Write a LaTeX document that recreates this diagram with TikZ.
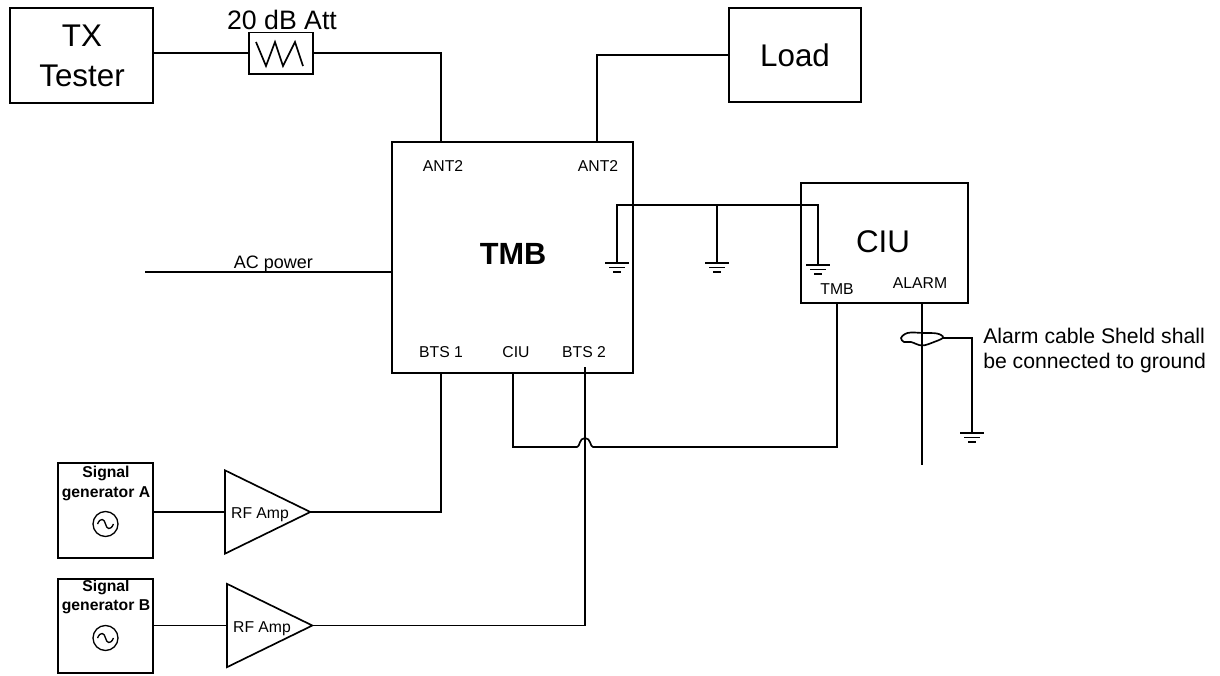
\documentclass[tikz,border=0pt]{standalone}
\usepackage{fontspec}
\setmainfont{Liberation Sans}
\usetikzlibrary{shapes.geometric}
\tikzset{
    wire/.style={line width=1.25pt},
    box/.style={draw,line width=1.25pt,inner sep=0pt,outer sep=0pt},
    amp/.style={draw,line width=1.25pt,isosceles triangle,isosceles triangle stretches,minimum width=62.5pt,minimum height=64pt,inner sep=0pt,outer sep=0pt,anchor=lower side},
    lbl/.style={inner sep=0pt,align=center},
    small/.style={lbl,font=\fontsize{11.8}{14.8}\selectfont},
    smallb/.style={small,font=\fontsize{11.8}{14.8}\selectfont\bfseries},
    big/.style={lbl,font=\fontsize{23.5}{30}\selectfont},
    gnd/.pic={
        \draw[wire] (-12,0) -- (12,0) (-8,4.5) -- (8,4.5) (-4,9) -- (4,9);
    },
    sine/.pic={
        \draw[line width=1pt] (0,0) circle (12.5);
        \draw[line width=1pt] (-8,0) .. controls (-5,-7) and (-1,-5) .. (0,0) .. controls (1,5) and (5,7) .. (8,0);
    }
}
\begin{document}
\begin{tikzpicture}[x=0.75pt,y=-0.75pt]
    \useasboundingbox (0,0) rectangle (1220,675);

    \node[box,minimum width=107.5pt,minimum height=71.5pt] (tx) at (81.5,55.5) {};
    \node[big] (txlbl) at (82,56) {TX\\Tester};
    \node[box,minimum width=48pt,minimum height=31pt] (att) at (281,53) {};
    \node[lbl,font=\fontsize{20}{22}\selectfont] (attlbl) at (282,20) {20 dB Att};
    \draw[wire] (256,42) -- (266,66) -- (275,42) -- (283,66) -- (295,42) -- (303,66);
    \node[box,minimum width=99pt,minimum height=70.5pt] (load) at (795,55) {};
    \node[big] (loadlbl) at (795,55) {Load};

    \node[box,minimum width=180.75pt,minimum height=173.25pt] (tmb) at (512.5,257.5) {};
    \node[lbl,font=\fontsize{23}{26}\selectfont\bfseries] (tmblbl) at (513,254) {TMB};
    \node[small] (ant1) at (443,166) {ANT2};
    \node[small] (ant2) at (598,166) {ANT2};
    \node[small] (bts1) at (441,352) {BTS 1};
    \node[small] (ciuport) at (516,352) {CIU};
    \node[small] (bts2) at (584,352) {BTS 2};

    \node[box,minimum width=125.5pt,minimum height=90pt] (ciu) at (884.5,243) {};
    \node[big] (ciulbl) at (883,242) {CIU};
    \node[small] (tmbport) at (837,289) {TMB};
    \node[small] (alarm) at (920,283) {ALARM};

    \coordinate (antin) at (441,142);
    \coordinate (antout) at (597,142);
    \draw[wire] (tx.east |- att.west) -- (att.west);
    \draw[wire] (att.east) -| (antin);
    \draw[wire] (load.west) -| (antout);

    \coordinate (acend) at (145,272);
    \coordinate (acin) at (392,272);
    \draw[wire] (acend) -- (acin);
    \node[lbl,font=\fontsize{13.5}{16}\selectfont] (aclbl) at (273.5,264) {AC power};

    \coordinate (gnda) at (617,263);
    \coordinate (gndb) at (717,263);
    \coordinate (gndc) at (818,265);
    \coordinate (busb) at (717,205);
    \draw[wire] (gnda) |- (gndc |- busb) -- (gndc);
    \draw[wire] (busb) -- (gndb);
    \pic at (gnda) {gnd};
    \pic at (gndb) {gnd};
    \pic at (gndc) {gnd};

    \node[box,minimum width=71.25pt,minimum height=71.25pt] (siga) at (105.5,510.5) {};
    \node[smallb] (sigalbl) at (106,483.5) {Signal\\generator A};
    \pic at (105.5,524) {sine};
    \node[box,minimum width=71.25pt,minimum height=70.5pt] (sigb) at (105.5,626) {};
    \node[smallb] (sigblbl) at (106,597) {Signal\\generator B};
    \pic at (105.5,638) {sine};

    \node[amp] (ampa) at (225,512) {};
    \node[small] (ampalbl) at (260,515) {RF Amp};
    \node[amp] (ampb) at (227,625.5) {};
    \node[small] (ampblbl) at (262,629) {RF Amp};
    \draw[wire] (siga.east |- ampa.lower side) -- (ampa.lower side);
    \draw[wire] (sigb.east |- ampb.lower side) -- (ampb.lower side);

    \coordinate (btsa) at (441,373);
    \coordinate (btsb) at (585,367);
    \coordinate (ciua) at (513,373);
    \coordinate (ciub) at (837,303);
    \draw[wire] (ampa.apex) -| (btsa);
    \draw[wire] (ampb.apex) -| (btsb);
    \draw[wire] (ciua) -- (513,447) -- (577,447) .. controls (580,447) and (579,438) .. (585,438) .. controls (591,438) and (590,447) .. (593,447) -- (837,447) -- (ciub);

    \coordinate (alarmtop) at (922,303);
    \coordinate (alarmend) at (922,465);
    \coordinate (shieldout) at (943,338);
    \coordinate (gndd) at (972,433);
    \draw[wire] (alarmtop) -- (alarmend);
    \draw[wire] plot[smooth cycle,tension=.6] coordinates {(901,338) (905,334) (911,332.5) (923,333) (937,333.5) (943,337.5) (934,342) (922,345.5) (911,342) (904,342)};
    \draw[wire] (shieldout) -| (gndd);
    \pic at (gndd) {gnd};
    \node[lbl,anchor=west,align=left,font=\fontsize{15.9}{18.2}\selectfont] (shieldlbl) at (983,350.5) {Alarm cable Sheld shall\\be connected to ground};
\end{tikzpicture}
\end{document}
